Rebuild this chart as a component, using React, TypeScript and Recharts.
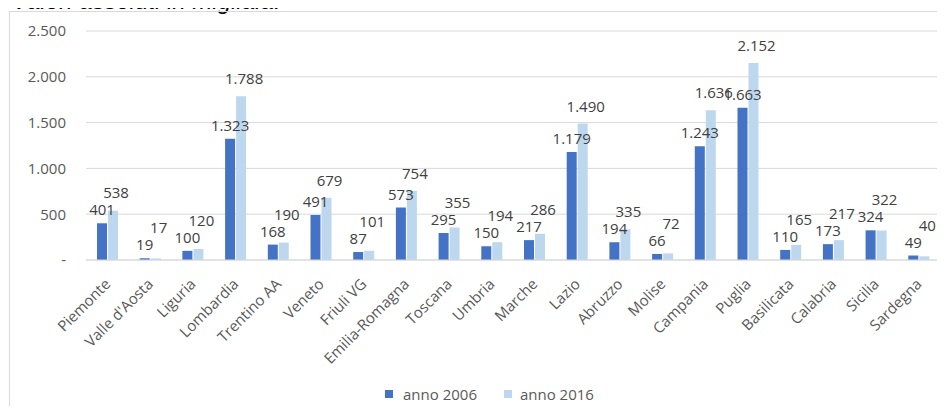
import { BarChart, Bar, XAxis, YAxis, CartesianGrid, Legend, LabelList } from 'recharts'

const regions = [
  'Piemonte', "Valle d'Aosta", 'Liguria', 'Lombardia', 'Trentino AA', 'Veneto', 'Friuli VG',
  'Emilia-Romagna', 'Toscana', 'Umbria', 'Marche', 'Lazio', 'Abruzzo', 'Molise', 'Campania',
  'Puglia', 'Basilicata', 'Calabria', 'Sicilia', 'Sardegna',
]
const anno2006 = [401, 19, 100, 1323, 168, 491, 87, 573, 295, 150, 217, 1179, 194, 66, 1243, 1663, 110, 173, 324, 49]
const anno2016 = [538, 17, 120, 1788, 190, 679, 101, 754, 355, 194, 286, 1490, 335, 72, 1636, 2152, 165, 217, 322, 40]
const yTicks = [0, 500, 1000, 1500, 2000, 2500]

const DARK = '#4472C4'
const LIGHT = '#BDD7EE'
const FONT = '"Open Sans", sans-serif'

const data = regions.map((region, i) => ({
  region,
  a2006: anno2006[i],
  a2016: anno2016[i],
}))

// migliaia con il punto, zero come trattino
const fmt = (v: number) => (v === 0 ? '-' : String(v).replace(/\B(?=(\d{3})+(?!\d))/g, '.'))

const box = (props: any) => {
  const vb = props.viewBox && props.viewBox.x != null ? props.viewBox : props
  return { x: Number(vb.x), y: Number(vb.y), width: Number(vb.width), height: Number(vb.height) }
}

const Label2006 = (props: any) => {
  const { x, y, width } = box(props)
  return (
    <text x={x + width / 2} y={y - 14} textAnchor="middle" dominantBaseline="central"
      fill="#404040" fontSize={15} fontFamily={FONT}>
      {fmt(props.value)}
    </text>
  )
}

// l'etichetta 2016 sta sempre sopra quella 2006 della stessa regione
const Label2016 = (props: any) => {
  const { x, y, width, height } = box(props)
  const value = Number(props.value)
  const base = y + height
  const ppu = value > 0 ? height / value : 0
  const top06 = base - anno2006[props.index] * ppu
  const cy = Math.min(y, top06 - 13) - 18
  return (
    <text x={x + width / 2 + 3} y={cy} textAnchor="middle" dominantBaseline="central"
      fill="#404040" fontSize={15} fontFamily={FONT}>
      {fmt(value)}
    </text>
  )
}

const RegionTick = ({ x, y, payload }: any) => (
  <text x={x + 4} y={y} transform={`rotate(-45, ${x + 4}, ${y})`} textAnchor="end"
    fill="#595959" fontSize={15} fontFamily={FONT}>
    {payload.value}
  </text>
)

const LegendContent = () => (
  <div style={{ display: 'flex', alignItems: 'center', fontFamily: FONT, fontSize: 15, color: '#595959', whiteSpace: 'nowrap' }}>
    <span style={{ width: 8, height: 8, background: DARK, marginRight: 10 }} />
    <span style={{ marginRight: 27 }}>anno 2006</span>
    <span style={{ width: 8, height: 8, background: LIGHT, marginRight: 8 }} />
    <span>anno 2016</span>
  </div>
)

export default function App() {
  return (
    <div style={{ position: 'relative', width: 945, height: 414, margin: -8, overflow: 'hidden', background: '#fff' }}>
      <div style={{
        position: 'absolute', left: 12, top: -11, fontSize: 24, lineHeight: '24px', fontStyle: 'italic',
        fontFamily: '"Liberation Sans", Arial, sans-serif', color: '#000', whiteSpace: 'nowrap',
      }}>
        Valori assoluti in migliaia.
      </div>
      <div style={{
        position: 'absolute', left: 9, top: 11, width: 960, height: 420,
        borderTop: '1px solid #D9D9D9', borderLeft: '1px solid #D9D9D9',
      }} />
      <div style={{ position: 'absolute', left: 0, top: 0 }}>
        <BarChart width={945} height={414} data={data} barSize={10} barGap={1}
          margin={{ top: 31, right: 5, left: 0, bottom: 0 }}>
          <CartesianGrid vertical={false} stroke="#D9D9D9" />
          <XAxis dataKey="region" interval={0} height={154} tickLine={false} tickSize={0} tickMargin={25}
            axisLine={{ stroke: '#D9D9D9' }} tick={<RegionTick />} />
          <YAxis domain={[0, 2500]} ticks={yTicks} width={86} axisLine={false} tickLine={false}
            tickSize={0} tickMargin={20} tickFormatter={fmt}
            tick={{ fill: '#595959', fontSize: 15, fontFamily: FONT }} />
          <Legend verticalAlign="middle" align="center" wrapperStyle={{ top: 384, left: 385, width: 'auto' }}
            content={<LegendContent />} />
          <Bar dataKey="a2006" name="anno 2006" fill={DARK} isAnimationActive={false}>
            <LabelList dataKey="a2006" content={<Label2006 />} />
          </Bar>
          <Bar dataKey="a2016" name="anno 2016" fill={LIGHT} isAnimationActive={false}>
            <LabelList dataKey="a2016" content={<Label2016 />} />
          </Bar>
        </BarChart>
      </div>
    </div>
  )
}
